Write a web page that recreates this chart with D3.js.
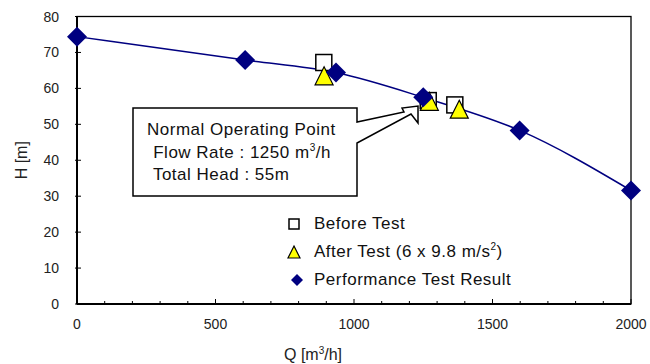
<!DOCTYPE html>
<html>
<head>
<meta charset="utf-8">
<script src="https://cdn.jsdelivr.net/npm/d3@7"></script>
<style>
  body { margin: 0; background: #fff; }
  svg { display: block; font-family: "Liberation Sans", Arial, sans-serif; }
</style>
</head>
<body>
<div id="chart"></div>
<script>
// Data
var perfQ = [0, 607, 935, 1250, 1598, 2000];
var perfH = [74.4, 67.9, 64.4, 57.5, 48.3, 31.6];
var beforeQ = [891, 1268, 1364];
var beforeH = [67.2, 56.6, 55.4];
var afterQ = [892, 1272, 1380];
var afterH = [63.5, 56.4, 54.2];
var xTicks = [0, 500, 1000, 1500, 2000];
var yTicks = [0, 10, 20, 30, 40, 50, 60, 70, 80];
var legendLabels = ['Before Test', 'After Test (6 x 9.8 m/s\u00b2)', 'Performance Test Result'];
var calloutLines = ['Normal Operating Point', ' Flow Rate : 1250 m\u00b3/h', ' Total Head : 55m'];

var navy = '#000080';
var w = 650, h = 364;
var margin = {top: 16.5, right: 19, bottom: 60, left: 77};

var svg = d3.select('#chart').append('svg').attr('width', w).attr('height', h);

var x = d3.scaleLinear().domain([0, 2000]).range([margin.left, w - margin.right]);
var y = d3.scaleLinear().domain([0, 80]).range([h - margin.bottom, margin.top]);

// plot frame
svg.append('rect')
  .attr('x', x(0)).attr('y', y(80))
  .attr('width', x(2000) - x(0)).attr('height', y(0) - y(80))
  .attr('fill', 'none').attr('stroke', '#000').attr('stroke-width', 1.3);

// minor x ticks (inside)
var minor = d3.range(0, 2001, 100);
svg.selectAll('.xminor').data(minor).enter().append('line')
  .attr('x1', function(d){ return x(d); }).attr('x2', function(d){ return x(d); })
  .attr('y1', y(0)).attr('y2', function(d){ return d % 500 === 0 ? y(0) - 5 : y(0) - 3; })
  .attr('stroke', '#000').attr('stroke-width', 1);

// y ticks across axis
svg.selectAll('.ytick').data(yTicks).enter().append('line')
  .attr('x1', x(0) - 2).attr('x2', x(0) + 4)
  .attr('y1', function(d){ return y(d); }).attr('y2', function(d){ return y(d); })
  .attr('stroke', '#000').attr('stroke-width', 1);

// axes lines
svg.append('line').attr('x1', x(0)).attr('x2', x(2000)).attr('y1', y(0)).attr('y2', y(0))
  .attr('stroke', '#000').attr('stroke-width', 2);
svg.append('line').attr('x1', x(0)).attr('x2', x(0)).attr('y1', y(0)).attr('y2', y(80))
  .attr('stroke', '#000').attr('stroke-width', 2);

// tick labels
svg.selectAll('.xlab').data(xTicks).enter().append('text')
  .attr('x', function(d){ return x(d); }).attr('y', 329)
  .attr('text-anchor', 'middle').attr('font-size', 14).attr('fill', '#222')
  .text(function(d){ return d; });
svg.selectAll('.ylab').data(yTicks).enter().append('text')
  .attr('x', 59).attr('y', function(d){ return y(d) + 5; })
  .attr('text-anchor', 'end').attr('font-size', 14).attr('fill', '#222')
  .text(function(d){ return d; });

// axis titles
var qt = svg.append('text').attr('x', 313).attr('y', 360).attr('text-anchor', 'middle')
  .attr('font-size', 16).attr('fill', '#222');
qt.append('tspan').text('Q [m');
qt.append('tspan').attr('font-size', 10).attr('dy', -6).text('3');
qt.append('tspan').attr('dy', 6).text('/h]');
svg.append('text').attr('transform', 'translate(27,' + ((y(0) + y(80)) / 2) + ') rotate(-90)')
  .attr('text-anchor', 'middle').attr('font-size', 16).attr('fill', '#222').text('H [m]');

// performance curve
var pts = perfQ.map(function(q, i){ return [q, perfH[i]]; });
var line = d3.line().x(function(d){ return x(d[0]); }).y(function(d){ return y(d[1]); })
  .curve(d3.curveMonotoneX);
svg.append('path').datum(pts).attr('d', line)
  .attr('fill', 'none').attr('stroke', navy).attr('stroke-width', 1.5);

// markers
function square(g, cx, cy, s){
  g.append('rect').attr('x', cx - s / 2).attr('y', cy - s / 2).attr('width', s).attr('height', s)
    .attr('fill', '#fff').attr('stroke', '#000').attr('stroke-width', 1.5);
}
function triangle(g, cx, cy, s){
  g.append('path')
    .attr('d', 'M' + cx + ',' + (cy - s / 2) + 'L' + (cx + s / 2) + ',' + (cy + s / 2) + 'L' + (cx - s / 2) + ',' + (cy + s / 2) + 'Z')
    .attr('fill', '#ffff00').attr('stroke', '#000').attr('stroke-width', 1.2);
}
function diamond(g, cx, cy, s){
  g.append('path')
    .attr('d', 'M' + cx + ',' + (cy - s / 2) + 'L' + (cx + s / 2) + ',' + cy + 'L' + cx + ',' + (cy + s / 2) + 'L' + (cx - s / 2) + ',' + cy + 'Z')
    .attr('fill', navy);
}

var marks = svg.append('g');
beforeQ.forEach(function(q, i){ square(marks, x(q), y(beforeH[i]), 16); });
afterQ.forEach(function(q, i){ triangle(marks, x(q), y(afterH[i]), 18); });
perfQ.forEach(function(q, i){ diamond(marks, x(q), y(perfH[i]), 20); });

// callout box with arrow
var callout = [[133,108],[357,108],[357,122],[404,112],[402,108],[418,106],[418,123],[411,114],[357,143],[357,196],[133,196]];
svg.append('path').attr('d', 'M' + callout.join('L') + 'Z')
  .attr('fill', '#fff').attr('stroke', '#000').attr('stroke-width', 1.5);
var ct = svg.append('g').attr('font-size', 17).attr('fill', '#111').attr('letter-spacing', 0.5);
ct.append('text').attr('x', 147).attr('y', 135).text(calloutLines[0]);
var l2 = ct.append('text').attr('x', 148).attr('y', 157.5).attr('xml:space', 'preserve');
l2.append('tspan').text(' Flow Rate : 1250 m');
l2.append('tspan').attr('font-size', 10).attr('dy', -7).text('3');
l2.append('tspan').attr('dy', 7).text('/h');
ct.append('text').attr('x', 148).attr('y', 180).attr('xml:space', 'preserve').text(calloutLines[2]);

// legend
var lg = svg.append('g');
var ly = [224, 252, 280];
square(lg, 294, ly[0], 10);
triangle(lg, 294, ly[1], 12);
diamond(lg, 297, ly[2], 12);
var lt = lg.append('g').attr('font-size', 17).attr('fill', '#111').attr('letter-spacing', 0.5);
lt.append('text').attr('x', 314).attr('y', ly[0] + 5).text(legendLabels[0]);
var a = lt.append('text').attr('x', 314).attr('y', ly[1] + 5);
a.append('tspan').text('After Test (6 x 9.8 m/s');
a.append('tspan').attr('font-size', 10).attr('dy', -7).text('2');
a.append('tspan').attr('dy', 7).text(')');
lt.append('text').attr('x', 314).attr('y', ly[2] + 5).text(legendLabels[2]);
</script>
</body>
</html>
